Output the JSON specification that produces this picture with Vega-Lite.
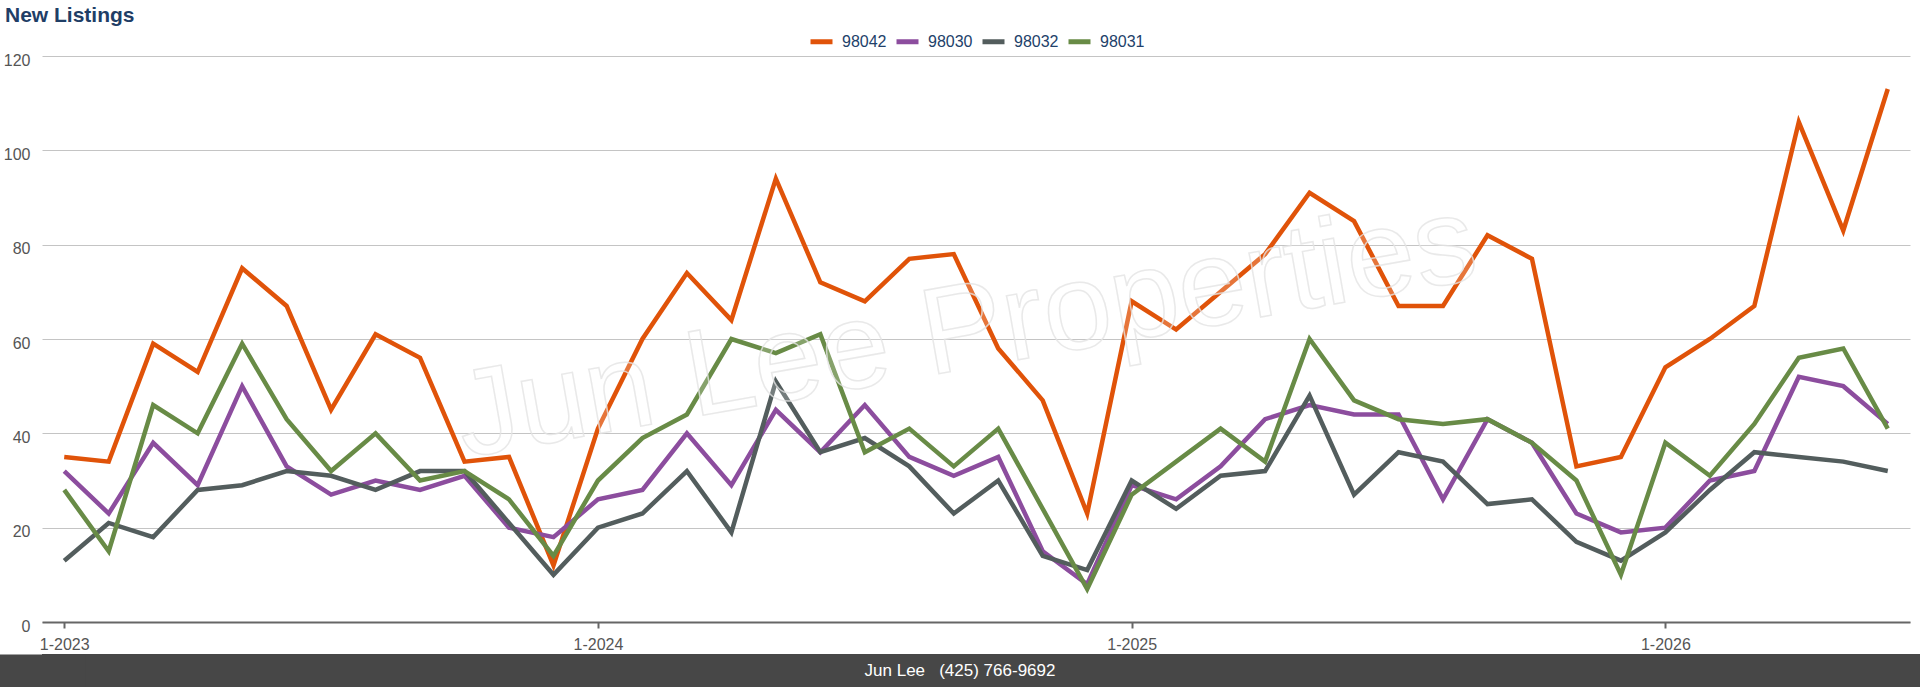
{
  "$schema": "https://vega.github.io/schema/vega-lite/v6.json",
  "padding": {"top": 5, "left": 0, "right": 0, "bottom": 0},
  "background": "white",
  "spacing": 0,
  "config": {
    "view": {"stroke": null},
    "font": "Liberation Sans"
  },
  "vconcat": [
    {
      "width": 1868,
      "height": 566,
      "title": {
        "text": "New Listings",
        "anchor": "start",
        "frame": "bounds",
        "dx": 5,
        "offset": 26,
        "fontSize": 21,
        "fontWeight": "bold",
        "color": "#1f3e66"
      },
      "resolve": {"axis": {"y": "independent"}},
      "layer": [
        {
          "data": {
            "values": [
              {"m": "1-2023", "98042": 35, "98030": 32, "98032": 13, "98031": 28},
              {"m": "2-2023", "98042": 34, "98030": 23, "98032": 21, "98031": 15},
              {"m": "3-2023", "98042": 59, "98030": 38, "98032": 18, "98031": 46},
              {"m": "4-2023", "98042": 53, "98030": 29, "98032": 28, "98031": 40},
              {"m": "5-2023", "98042": 75, "98030": 50, "98032": 29, "98031": 59},
              {"m": "6-2023", "98042": 67, "98030": 33, "98032": 32, "98031": 43},
              {"m": "7-2023", "98042": 45, "98030": 27, "98032": 31, "98031": 32},
              {"m": "8-2023", "98042": 61, "98030": 30, "98032": 28, "98031": 40},
              {"m": "9-2023", "98042": 56, "98030": 28, "98032": 32, "98031": 30},
              {"m": "10-2023", "98042": 34, "98030": 31, "98032": 32, "98031": 32},
              {"m": "11-2023", "98042": 35, "98030": 20, "98032": 21, "98031": 26},
              {"m": "12-2023", "98042": 12, "98030": 18, "98032": 10, "98031": 14},
              {"m": "1-2024", "98042": 41, "98030": 26, "98032": 20, "98031": 30},
              {"m": "2-2024", "98042": 60, "98030": 28, "98032": 23, "98031": 39},
              {"m": "3-2024", "98042": 74, "98030": 40, "98032": 32, "98031": 44},
              {"m": "4-2024", "98042": 64, "98030": 29, "98032": 19, "98031": 60},
              {"m": "5-2024", "98042": 94, "98030": 45, "98032": 51, "98031": 57},
              {"m": "6-2024", "98042": 72, "98030": 36, "98032": 36, "98031": 61},
              {"m": "7-2024", "98042": 68, "98030": 46, "98032": 39, "98031": 36},
              {"m": "8-2024", "98042": 77, "98030": 35, "98032": 33, "98031": 41},
              {"m": "9-2024", "98042": 78, "98030": 31, "98032": 23, "98031": 33},
              {"m": "10-2024", "98042": 58, "98030": 35, "98032": 30, "98031": 41},
              {"m": "11-2024", "98042": 47, "98030": 15, "98032": 14, "98031": 24},
              {"m": "12-2024", "98042": 23, "98030": 8, "98032": 11, "98031": 7},
              {"m": "1-2025", "98042": 68, "98030": 29, "98032": 30, "98031": 27},
              {"m": "2-2025", "98042": 62, "98030": 26, "98032": 24, "98031": 34},
              {"m": "3-2025", "98042": 70, "98030": 33, "98032": 31, "98031": 41},
              {"m": "4-2025", "98042": 78, "98030": 43, "98032": 32, "98031": 34},
              {"m": "5-2025", "98042": 91, "98030": 46, "98032": 48, "98031": 60},
              {"m": "6-2025", "98042": 85, "98030": 44, "98032": 27, "98031": 47},
              {"m": "7-2025", "98042": 67, "98030": 44, "98032": 36, "98031": 43},
              {"m": "8-2025", "98042": 67, "98030": 26, "98032": 34, "98031": 42},
              {"m": "9-2025", "98042": 82, "98030": 43, "98032": 25, "98031": 43},
              {"m": "10-2025", "98042": 77, "98030": 38, "98032": 26, "98031": 38},
              {"m": "11-2025", "98042": 33, "98030": 23, "98032": 17, "98031": 30},
              {"m": "12-2025", "98042": 35, "98030": 19, "98032": 13, "98031": 10},
              {"m": "1-2026", "98042": 54, "98030": 20, "98032": 19, "98031": 38},
              {"m": "2-2026", "98042": 60, "98030": 30, "98032": 28, "98031": 31},
              {"m": "3-2026", "98042": 67, "98030": 32, "98032": 36, "98031": 42},
              {"m": "4-2026", "98042": 106, "98030": 52, "98032": 35, "98031": 56},
              {"m": "5-2026", "98042": 83, "98030": 50, "98032": 34, "98031": 58},
              {"m": "6-2026", "98042": 113, "98030": 42, "98032": 32, "98031": 41}
            ]
          },
          "transform": [
            {"fold": ["98042", "98030", "98032", "98031"], "as": ["zip", "listings"]}
          ],
          "mark": {"type": "line", "strokeWidth": 4.5, "strokeJoin": "miter"},
          "encoding": {
            "x": {
              "field": "m",
              "type": "nominal",
              "sort": null,
              "scale": {"type": "point", "padding": 0.5},
              "axis": {
                "title": null,
                "values": ["1-2023", "1-2024", "1-2025", "1-2026"],
                "labelAngle": 0,
                "labelFontSize": 16,
                "labelColor": "#555555",
                "labelPadding": 8,
                "tickSize": 6,
                "tickWidth": 2,
                "tickColor": "#666666",
                "domainColor": "#666666",
                "domainWidth": 2,
                "grid": false,
                "minExtent": 32,
                "maxExtent": 32
              }
            },
            "y": {
              "field": "listings",
              "type": "quantitative",
              "scale": {"domain": [0, 120], "nice": false},
              "axis": {
                "title": null,
                "values": [0, 20, 40, 60, 80, 100, 120],
                "domain": false,
                "ticks": false,
                "labelFontSize": 16,
                "labelColor": "#555555",
                "labelPadding": 12,
                "labelOffset": 4,
                "gridColor": "#c4c4c4",
                "gridWidth": 1,
                "minExtent": 42,
                "maxExtent": 42
              }
            },
            "color": {
              "field": "zip",
              "type": "nominal",
              "sort": ["98042", "98030", "98032", "98031"],
              "scale": {
                "domain": ["98042", "98030", "98032", "98031"],
                "range": ["#e05309", "#8c4d9e", "#535d5d", "#688b46"]
              },
              "legend": {
                "title": null,
                "orient": "none",
                "direction": "horizontal",
                "legendX": 766,
                "legendY": -28,
                "symbolType": "stroke",
                "symbolSize": 484,
                "symbolStrokeWidth": 5,
                "labelFontSize": 16,
                "labelColor": "#22416a",
                "labelOffset": 7,
                "columnPadding": -1
              }
            }
          }
        },
        {
          "data": {"values": [{"wm": "Jun Lee Properties"}]},
          "mark": {
            "type": "text",
            "angle": -10,
            "fontSize": 123,
            "align": "center",
            "baseline": "middle",
            "dx": -10,
            "fill": "#ffffff",
            "fillOpacity": 0.2,
            "stroke": "#e4e4e4",
            "strokeWidth": 1.5,
            "strokeOpacity": 0.8
          },
          "encoding": {
            "text": {"field": "wm"},
            "y": {
              "datum": 62,
              "type": "quantitative",
              "scale": {"domain": [0, 120], "nice": false},
              "axis": null
            }
          }
        }
      ]
    },
    {
      "width": 1878,
      "height": 33,
      "view": {"fill": "#474747", "stroke": null},
      "data": {"values": [{"label": "Jun Lee \u00a0 (425) 766-9692"}]},
      "mark": {"type": "text", "fill": "#ffffff", "fontSize": 17, "dx": -21},
      "encoding": {
        "text": {"field": "label"},
        "y": {
          "datum": 0.5,
          "type": "quantitative",
          "scale": {"domain": [0, 1]},
          "axis": {
            "title": null,
            "labels": false,
            "ticks": false,
            "grid": false,
            "domain": true,
            "domainColor": "#474747",
            "domainWidth": 86,
            "minExtent": 42,
            "maxExtent": 42
          }
        }
      }
    }
  ]
}
